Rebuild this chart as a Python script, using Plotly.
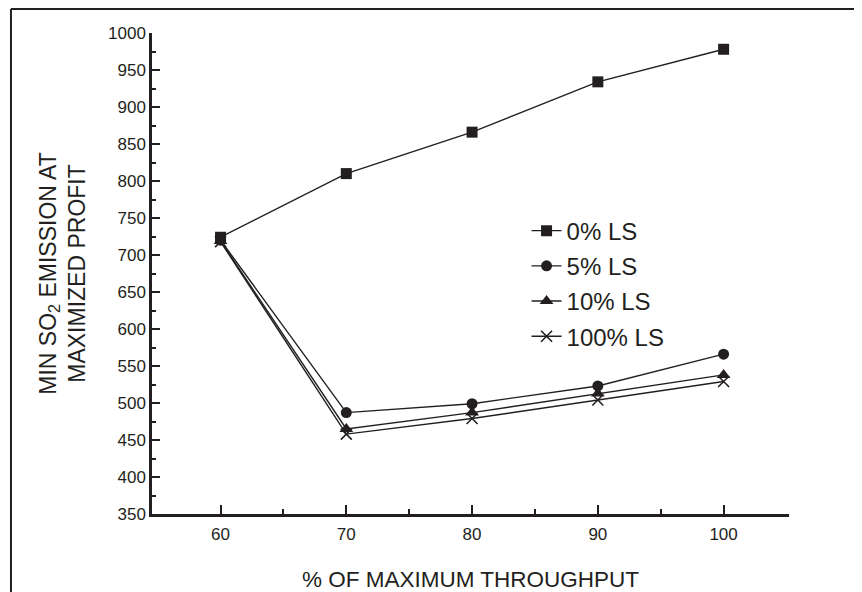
import plotly.graph_objects as go

throughput = [60, 70, 80, 90, 100]
ls0 = [724, 810, 866, 934, 978]
ls5 = [720, 487, 499, 523, 566]
ls10 = [719, 465, 487, 513, 538]
ls100 = [718, 458, 479, 504, 529]

series_names = ["0% LS", "5% LS", "10% LS", "100% LS"]
series_vals = [ls0, ls5, ls10, ls100]
symbols = ["square", "circle", "triangle-up", "x-thin"]
sizes = [11, 11, 12, 11]

ink = "#231f20"
font_family = "Liberation Sans, Arial, Helvetica, sans-serif"

fig = go.Figure()
for i, (name, vals, sym, sz) in enumerate(zip(series_names, series_vals, symbols, sizes)):
    marker = dict(symbol=sym, size=sz, color=ink, line=dict(color=ink, width=1.6 if sym == "x-thin" else 0))
    fig.add_trace(go.Scatter(
        x=throughput, y=vals, name=name, mode="lines+markers",
        line=dict(color=ink, width=1.4), marker=marker,
        legendgroup=f"g{i}",
    ))

# the page body adds an 8px offset, so the figure is 8px smaller than the window
fig.update_layout(
    width=854, height=584,
    margin=dict(l=144, r=73, t=25, b=78),
    paper_bgcolor="white", plot_bgcolor="white",
    font=dict(family=font_family, color=ink, size=17),
    showlegend=True,
    legend=dict(
        x=0.588, y=0.635, xanchor="left", yanchor="top",
        font=dict(size=24, color=ink), tracegroupgap=1,
        bgcolor="rgba(0,0,0,0)", borderwidth=0,
    ),
    xaxis=dict(
        range=[54.55, 105.2], tickvals=[60, 70, 80, 90, 100],
        showline=True, linecolor=ink, linewidth=2.5, mirror=False,
        ticks="inside", ticklen=9, tickwidth=1.5, tickcolor=ink,
        minor=dict(tickvals=[65, 75, 85, 95], ticks="inside", ticklen=5, tickwidth=1.5, tickcolor=ink),
        showgrid=False, zeroline=False, automargin=False,
        tickfont=dict(size=17, color=ink), ticklabelstandoff=3,
        title=dict(text="% OF MAXIMUM THROUGHPUT", font=dict(size=22.5, color=ink), standoff=31),
    ),
    yaxis=dict(
        range=[350, 1000], tickvals=list(range(350, 1001, 50)),
        showline=True, linecolor=ink, linewidth=2.5, mirror=False,
        ticks="inside", ticklen=8, tickwidth=1.5, tickcolor=ink,
        minor=dict(tickvals=list(range(375, 1000, 50)), ticks="inside", ticklen=4, tickwidth=1.5, tickcolor=ink),
        showgrid=False, zeroline=False, automargin=False,
        tickfont=dict(size=17, color=ink),
        title=dict(text="MIN SO<sub>2</sub> EMISSION AT<br>MAXIMIZED PROFIT", font=dict(size=23, color=ink), standoff=16),
    ),
)

# outer frame (top and left edges only, as in the reference)
fig.add_shape(type="line", xref="paper", yref="paper", x0=-0.2214, x1=1.2, y0=1.0498, y1=1.0498,
              line=dict(color=ink, width=2))
fig.add_shape(type="line", xref="paper", yref="paper", x0=-0.2214, x1=-0.2214, y0=1.0498, y1=-0.2,
              line=dict(color=ink, width=2))

fig.write_html("out.html")
